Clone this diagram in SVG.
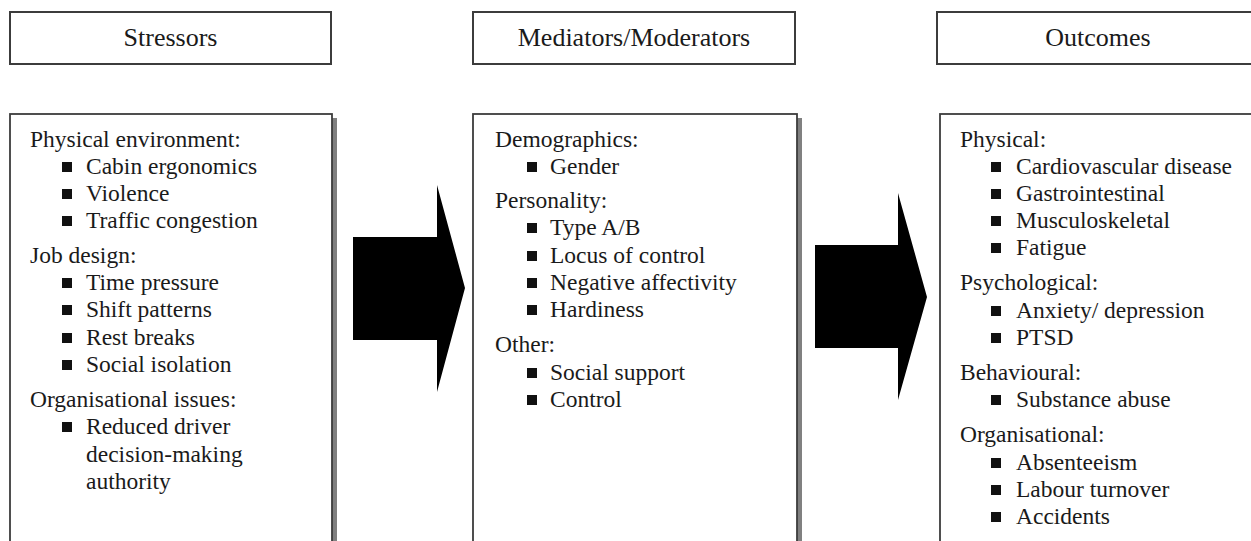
<svg xmlns="http://www.w3.org/2000/svg" width="1251" height="541" viewBox="0 0 1251 541">
<style>
.hdr{fill:#fff;stroke:#3c3c3c;stroke-width:2}
.box{fill:#fff;stroke:#3c3c3c;stroke-width:1.8}
.shadow{fill:#808080}
.ht{font-family:"Liberation Serif","Times New Roman",serif;font-size:26px;fill:#1a1a1a;text-anchor:middle}
.t{font-family:"Liberation Serif","Times New Roman",serif;font-size:23.5px;fill:#1a1a1a}
.b{fill:#111}
.arrow{fill:#000}
</style>
<defs>
<rect id="bul" class="b" width="10" height="10"/>
</defs>

<g id="stressors-header">
<rect class="hdr" x="10" y="12" width="321" height="52"/>
<text class="ht" x="170.5" y="46">Stressors</text>
</g>
<g id="mediators-header">
<rect class="hdr" x="473" y="12" width="322" height="52"/>
<text class="ht" x="634" y="46">Mediators/Moderators</text>
</g>
<g id="outcomes-header">
<rect class="hdr" x="937" y="12" width="322" height="52"/>
<text class="ht" x="1098" y="46">Outcomes</text>
</g>

<g id="stressors-body">
<rect class="shadow" x="15" y="118" width="322" height="440"/>
<rect class="box" x="10" y="114" width="322" height="440"/>
<text class="t" x="30" y="147">Physical environment:</text>
<use href="#bul" x="62" y="162"/><text class="t" x="86" y="174">Cabin ergonomics</text>
<use href="#bul" x="62" y="189"/><text class="t" x="86" y="201">Violence</text>
<use href="#bul" x="62" y="216"/><text class="t" x="86" y="228">Traffic congestion</text>
<text class="t" x="30" y="263">Job design:</text>
<use href="#bul" x="62" y="278"/><text class="t" x="86" y="290">Time pressure</text>
<use href="#bul" x="62" y="305"/><text class="t" x="86" y="317">Shift patterns</text>
<use href="#bul" x="62" y="333"/><text class="t" x="86" y="345">Rest breaks</text>
<use href="#bul" x="62" y="360"/><text class="t" x="86" y="372">Social isolation</text>
<text class="t" x="30" y="407">Organisational issues:</text>
<use href="#bul" x="62" y="422"/><text class="t" x="86" y="434">Reduced driver</text>
<text class="t" x="86" y="462">decision-making</text>
<text class="t" x="86" y="489">authority</text>
</g>

<g id="mediators-body">
<rect class="shadow" x="478" y="118" width="324" height="440"/>
<rect class="box" x="473" y="114" width="324" height="440"/>
<text class="t" x="495" y="147">Demographics:</text>
<use href="#bul" x="527" y="162"/><text class="t" x="550" y="174">Gender</text>
<text class="t" x="495" y="208">Personality:</text>
<use href="#bul" x="527" y="223"/><text class="t" x="550" y="235">Type A/B</text>
<use href="#bul" x="527" y="251"/><text class="t" x="550" y="263">Locus of control</text>
<use href="#bul" x="527" y="278"/><text class="t" x="550" y="290">Negative affectivity</text>
<use href="#bul" x="527" y="305"/><text class="t" x="550" y="317">Hardiness</text>
<text class="t" x="495" y="352">Other:</text>
<use href="#bul" x="527" y="368"/><text class="t" x="550" y="380">Social support</text>
<use href="#bul" x="527" y="395"/><text class="t" x="550" y="407">Control</text>
</g>

<g id="outcomes-body">
<rect class="shadow" x="945" y="118" width="322" height="440"/>
<rect class="box" x="940" y="114" width="322" height="440"/>
<text class="t" x="960" y="147">Physical:</text>
<use href="#bul" x="991" y="162"/><text class="t" x="1016" y="174">Cardiovascular disease</text>
<use href="#bul" x="991" y="189"/><text class="t" x="1016" y="201">Gastrointestinal</text>
<use href="#bul" x="991" y="216"/><text class="t" x="1016" y="228">Musculoskeletal</text>
<use href="#bul" x="991" y="243"/><text class="t" x="1016" y="255">Fatigue</text>
<text class="t" x="960" y="290">Psychological:</text>
<use href="#bul" x="991" y="306"/><text class="t" x="1016" y="318">Anxiety/ depression</text>
<use href="#bul" x="991" y="333"/><text class="t" x="1016" y="345">PTSD</text>
<text class="t" x="960" y="380">Behavioural:</text>
<use href="#bul" x="991" y="395"/><text class="t" x="1016" y="407">Substance abuse</text>
<text class="t" x="960" y="442">Organisational:</text>
<use href="#bul" x="991" y="458"/><text class="t" x="1016" y="470">Absenteeism</text>
<use href="#bul" x="991" y="485"/><text class="t" x="1016" y="497">Labour turnover</text>
<use href="#bul" x="991" y="512"/><text class="t" x="1016" y="524">Accidents</text>
</g>

<g id="connectors">
<polygon class="arrow" points="353,237 437,237 437,185 465,288 437,392 437,340 353,340"/>
<polygon class="arrow" points="815,245 898,245 898,193 927,297 898,400 898,348 815,348"/>
</g>
</svg>
